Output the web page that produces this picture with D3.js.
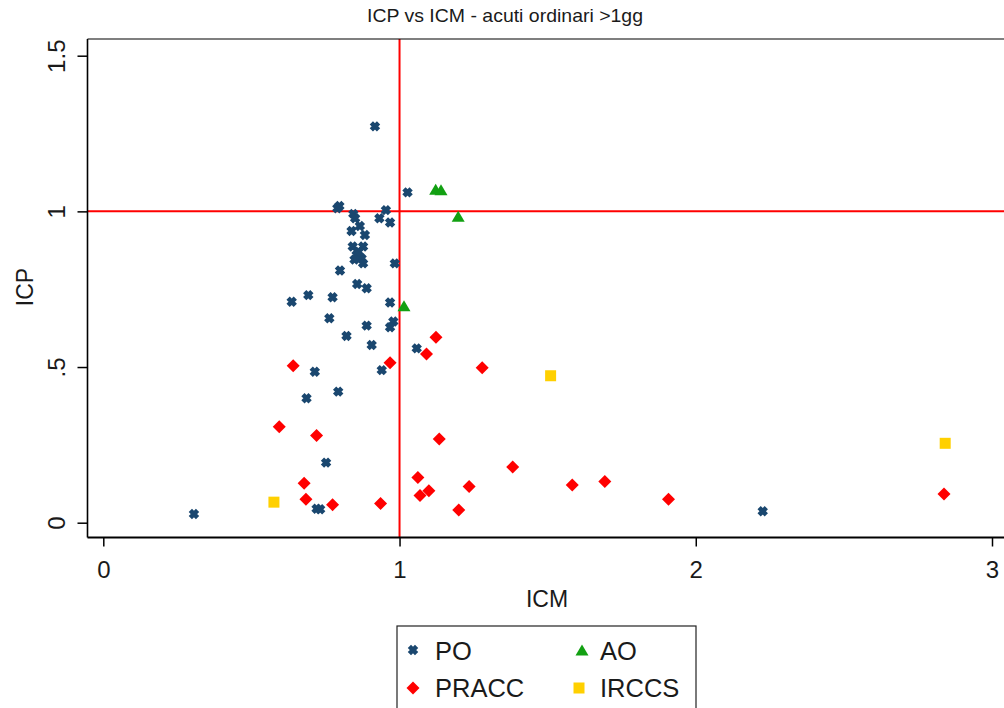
<!DOCTYPE html>
<html>
<head>
<meta charset="utf-8">
<script src="https://cdn.jsdelivr.net/npm/d3@7"></script>
<style>
  html, body { margin: 0; padding: 0; background: #fff; }
  svg { display: block; font-family: "Liberation Sans", Arial, sans-serif; }
</style>
</head>
<body>
<svg id="chart" width="1004" height="708"></svg>
<script>
// ---- data ----
const titleText = "ICP vs ICM - acuti ordinari >1gg";
const xTickValues = [0, 1, 2, 3];
const xTickLabels = ["0", "1", "2", "3"];
const yTickValues = [0, 0.5, 1, 1.5];
const yTickLabels = ["0", ".5", "1", "1.5"];
const groups = ["PO", "AO", "PRACC", "IRCCS"];

// [ICM, ICP]
const PO = [
  [0.917, 1.273], [1.027, 1.061], [0.797, 1.017], [0.790, 1.010], [0.844, 0.992],
  [0.850, 0.978], [0.866, 0.953], [0.838, 0.937], [0.883, 0.924], [0.954, 1.004],
  [0.932, 0.978], [0.968, 0.964], [0.842, 0.887], [0.877, 0.887], [0.855, 0.860],
  [0.872, 0.849], [0.877, 0.833], [0.862, 0.870], [0.848, 0.845], [0.984, 0.833],
  [0.799, 0.810], [0.857, 0.767], [0.889, 0.753], [0.692, 0.731], [0.774, 0.724],
  [0.636, 0.710], [0.968, 0.707], [0.763, 0.657], [0.889, 0.633], [0.979, 0.646],
  [0.968, 0.628], [0.821, 0.600], [0.906, 0.571], [1.058, 0.560], [0.940, 0.490],
  [0.714, 0.485], [0.686, 0.400], [0.793, 0.421], [0.752, 0.193], [0.720, 0.045],
  [0.732, 0.043], [0.306, 0.028], [2.226, 0.037]
];
const AO = [
  [1.122, 1.068], [1.140, 1.066], [1.198, 0.981], [1.015, 0.694]
];
const PRACC = [
  [0.641, 0.504], [0.968, 0.514], [1.091, 0.542], [1.123, 0.596], [1.279, 0.498],
  [0.594, 0.308], [0.720, 0.280], [1.134, 0.269], [0.678, 0.127], [0.684, 0.075],
  [0.774, 0.058], [0.936, 0.062], [1.062, 0.145], [1.069, 0.087], [1.099, 0.103],
  [1.382, 0.179], [1.235, 0.116], [1.200, 0.041], [1.583, 0.121], [1.693, 0.132],
  [1.908, 0.075], [2.838, 0.092]
];
const IRCCS = [
  [0.576, 0.066], [1.510, 0.472], [2.842, 0.255]
];

// ---- layout ----
const svg = d3.select("#chart");
const x = d3.scaleLinear().domain([0, 3]).range([103.3, 992]);
const y = d3.scaleLinear().domain([0, 1.5]).range([522.7, 55.7]);
const frame = { left: 87.5, top: 39, bottom: 537.5, right: 1010 };

const colors = { PO: "#1a476f", AO: "#12a012", PRACC: "#ff0000", IRCCS: "#ffd000" };

// title
svg.append("text")
  .attr("x", 505).attr("y", 22)
  .attr("text-anchor", "middle")
  .attr("font-size", 19)
  .attr("textLength", 276).attr("lengthAdjust", "spacingAndGlyphs")
  .attr("fill", "#1a1a1a")
  .text(titleText);

// reference lines
svg.append("line")
  .attr("x1", x(1)).attr("x2", x(1))
  .attr("y1", frame.top).attr("y2", frame.bottom)
  .attr("stroke", "#ff0000").attr("stroke-width", 2);
svg.append("line")
  .attr("x1", frame.left).attr("x2", frame.right)
  .attr("y1", y(1)).attr("y2", y(1))
  .attr("stroke", "#ff0000").attr("stroke-width", 2);

// frame top
svg.append("line")
  .attr("x1", frame.left).attr("x2", frame.right)
  .attr("y1", frame.top).attr("y2", frame.top)
  .attr("stroke", "#000").attr("stroke-width", 1.2);

// x axis
const xAxis = svg.append("g")
  .attr("transform", `translate(0,${frame.bottom})`)
  .call(d3.axisBottom(x).tickValues(xTickValues)
        .tickFormat((d, i) => xTickLabels[i]).tickSize(9).tickSizeOuter(0));
xAxis.select(".domain").remove();
xAxis.selectAll(".tick line").attr("stroke", "#000").attr("stroke-width", 1.5);
xAxis.selectAll(".tick text")
  .attr("font-size", 24).attr("fill", "#1a1a1a").attr("dy", null).attr("y", 40)
  .attr("font-family", "'Liberation Sans', Arial, sans-serif");
svg.append("line")
  .attr("x1", frame.left).attr("x2", frame.right)
  .attr("y1", frame.bottom).attr("y2", frame.bottom)
  .attr("stroke", "#000").attr("stroke-width", 2.2);

// y axis
const yAxis = svg.append("g")
  .attr("transform", `translate(${frame.left},0)`)
  .call(d3.axisLeft(y).tickValues(yTickValues)
        .tickFormat((d, i) => yTickLabels[i]).tickSize(10).tickSizeOuter(0));
yAxis.select(".domain").remove();
yAxis.selectAll(".tick line").attr("stroke", "#000").attr("stroke-width", 1.5);
yAxis.selectAll(".tick text")
  .attr("font-size", 24).attr("fill", "#1a1a1a")
  .attr("font-family", "'Liberation Sans', Arial, sans-serif")
  .attr("x", null).attr("dy", null)
  .attr("text-anchor", "middle")
  .attr("transform", "translate(-23,0) rotate(-90)");
svg.append("line")
  .attr("x1", frame.left).attr("x2", frame.left)
  .attr("y1", frame.top).attr("y2", frame.bottom)
  .attr("stroke", "#000").attr("stroke-width", 1.6);

// axis titles
svg.append("text")
  .attr("x", 547).attr("y", 607)
  .attr("text-anchor", "middle").attr("font-size", 23).attr("fill", "#1a1a1a")
  .text("ICM");
svg.append("text")
  .attr("transform", "translate(33,287) rotate(-90)")
  .attr("text-anchor", "middle").attr("font-size", 23).attr("fill", "#1a1a1a")
  .text("ICP");

// ---- markers ----
function drawMarker(g, type, cx, cy) {
  if (type === "PO") {
    g.append("path")
      .attr("d", "M-3.6,-3.6L3.6,3.6M3.6,-3.6L-3.6,3.6")
      .attr("transform", `translate(${cx},${cy})`)
      .attr("stroke", colors.PO).attr("stroke-width", 4.6).attr("fill", "none");
  } else if (type === "PRACC") {
    g.append("path")
      .attr("d", "M0,-6.5L6.5,0L0,6.5L-6.5,0Z")
      .attr("transform", `translate(${cx},${cy})`)
      .attr("fill", colors.PRACC);
  } else if (type === "AO") {
    g.append("path")
      .attr("d", "M0,-6.5L6.5,4.5L-6.5,4.5Z")
      .attr("transform", `translate(${cx},${cy})`)
      .attr("fill", colors.AO);
  } else if (type === "IRCCS") {
    g.append("rect")
      .attr("x", cx - 5.5).attr("y", cy - 5.5)
      .attr("width", 11).attr("height", 11)
      .attr("fill", colors.IRCCS);
  }
}

const series = { PO, AO, PRACC, IRCCS };
const markG = svg.append("g");
["PO", "AO", "PRACC", "IRCCS"].forEach(k => {
  series[k].forEach(d => drawMarker(markG, k, x(d[0]), y(d[1])));
});

// ---- legend ----
const lg = svg.append("g");
lg.append("rect")
  .attr("x", 397).attr("y", 626).attr("width", 299).attr("height", 100)
  .attr("fill", "#fff").attr("stroke", "#222").attr("stroke-width", 1.2);
const legendItems = [
  { k: "PO", mx: 413, my: 650, tx: 435, ty: 660 },
  { k: "AO", mx: 582, my: 651, tx: 600, ty: 660 },
  { k: "PRACC", mx: 413, my: 688, tx: 435, ty: 697 },
  { k: "IRCCS", mx: 579, my: 688, tx: 600, ty: 697 }
];
legendItems.forEach(it => {
  drawMarker(lg, it.k, it.mx, it.my);
  lg.append("text")
    .attr("x", it.tx).attr("y", it.ty)
    .attr("font-size", 25.5).attr("fill", "#1a1a1a")
    .text(it.k);
});
</script>
</body>
</html>
